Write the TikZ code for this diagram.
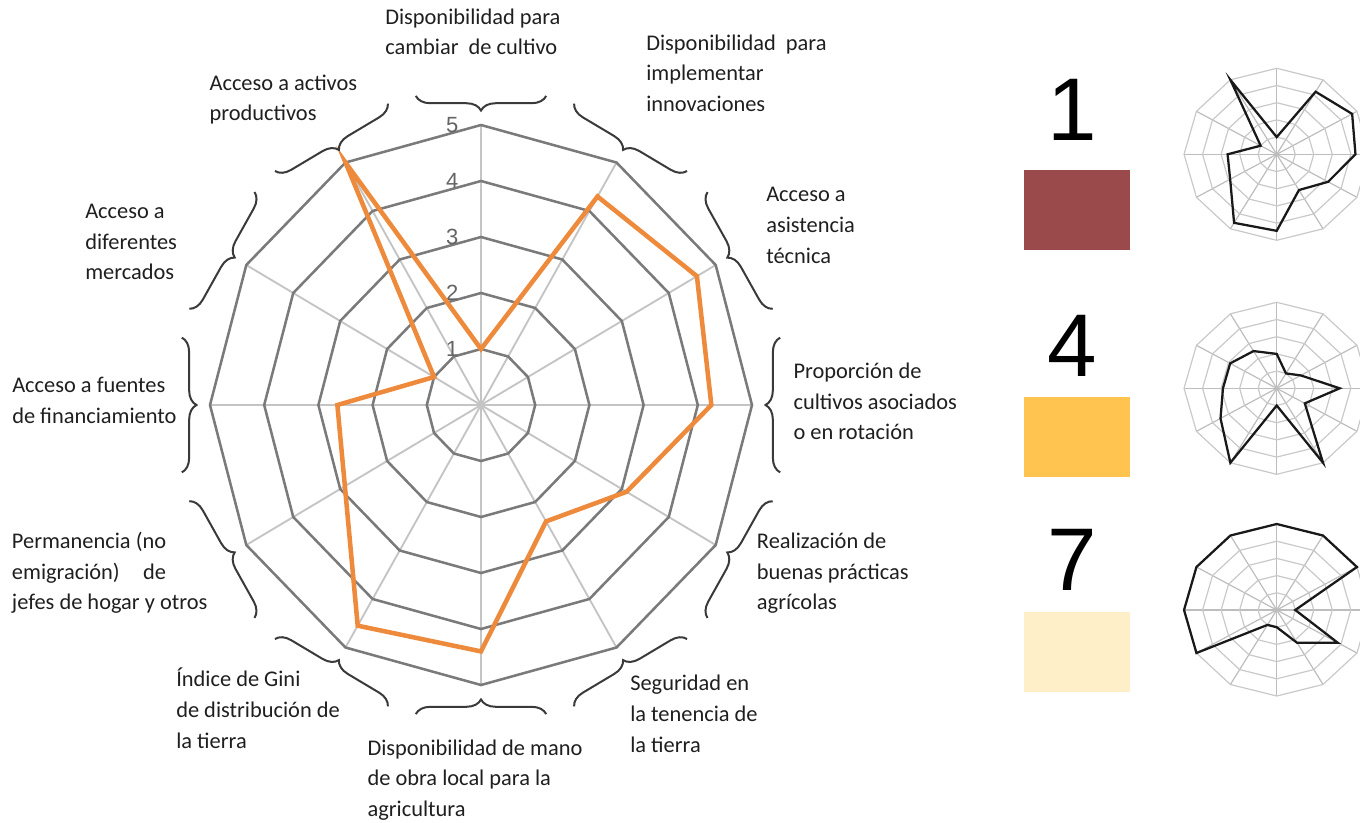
\documentclass[tikz,border=0pt]{standalone}
\usepackage{fontspec}
\setmainfont{Carlito}
\newfontfamily\numfont{Liberation Sans}
\usepackage{calc}
\usetikzlibrary{decorations.pathreplacing}

\definecolor{ringgray}{HTML}{7A7A7A}
\definecolor{spokegray}{HTML}{C4C4C4}
\definecolor{tickgray}{HTML}{646464}
\definecolor{bracegray}{HTML}{3A3A3A}
\definecolor{labelgray}{HTML}{1F1F1F}
\definecolor{profileorange}{HTML}{EE8A3C}
\definecolor{miniring}{HTML}{C9C9C9}
\definecolor{minispoke}{HTML}{BDBDBD}
\definecolor{clusterA}{HTML}{9B4A4C}
\definecolor{clusterB}{HTML}{FFC34F}
\definecolor{clusterC}{HTML}{FEEFC8}

\tikzset{
  ring/.style={draw=ringgray, line width=1.9pt},
  spoke/.style={draw=spokegray, line width=1.4pt},
  tick/.style={inner sep=0pt, text=tickgray, font=\numfont\fontsize{16.5}{18}\selectfont},
  profile/.style={draw=profileorange, line width=3.4pt, line join=miter},
  curly/.style={decorate, decoration={brace, amplitude=11pt}, draw=bracegray, line width=1.5pt},
  lbl/.style={anchor=north west, inner sep=0pt, align=left, text=labelgray,
    font=\fontsize{16.8}{23}\selectfont},
  bignum/.style={inner sep=0pt, font=\numfont\fontsize{66.75}{70}\selectfont},
  swatch/.style={inner sep=0pt, minimum width=79.5pt, minimum height=60pt},
  mring/.style={draw=miniring, line width=0.9pt},
  mspoke/.style={draw=minispoke, line width=0.9pt},
  mprofile/.style={draw=black!90, line width=1.7pt, line join=miter}
}

\begin{document}
\begin{tikzpicture}[x=0.75pt, y=-0.75pt]
\useasboundingbox (0,0) rectangle (1360,822);

% main chart
\begin{scope}[shift={(481,405)}, x=40.65pt, y=42pt]
  \foreach \a in {0,30,...,330}
    \draw[spoke] (0,0) -- (\a:5);
  \foreach \r in {1,...,5}
    \draw[ring] (90:\r) \foreach \a in {60,30,...,-240}{ -- (\a:\r)} -- cycle;
  \foreach \r in {1,...,5}
    \node[tick] (t\r) at (-0.53,\r) {\r};
  \draw[profile] (90:1) \foreach \v [count=\i] in {4.3,4.6,4.25,3.1,2.4,4.4,4.55,2.9,2.65,1,5}{ -- ({90-30*\i}:\v)} -- cycle;
  % braces
  \foreach \a in {0,30,...,330}
    \draw[curly] ({\a-12.3}:5.65) -- ({\a+12.3}:5.65);
\end{scope}

% labels
\node[lbl] (cambio) at (385,2.5) {\strut Disponibilidad para\\cambiar\ \ de cultivo};
\node[lbl] (innova) at (646,28.5) {\strut Disponibilidad\ \ para\\implementar\\innovaciones};
\node[lbl] (asist) at (766,180.2) {\strut Acceso a\\asistencia\\técnica};
\node[lbl] (rotac) at (793.3,356.8) {\strut Proporción de\\cultivos asociados\\o en rotación};
\node[lbl] (buenas) at (756.7,526.8) {\strut Realización de\\buenas prácticas\\agrícolas};
\node[lbl] (tenencia) at (630,669.2) {\strut Seguridad en\\la tenencia de\\la tierra};
\node[lbl] (mano) at (367.3,733.5) {\strut Disponibilidad de mano\\de obra local para la\\agricultura};
\node[lbl] (gini) at (176,665.2) {\strut Índice de Gini\\de distribución de\\la tierra};
\node[lbl] (perm) at (11.7,526.8) {\strut Permanencia (no\\\makebox[\widthof{Permanencia (no}][s]{emigración)\hfill de}\\jefes de hogar y otros};
\node[lbl] (financ) at (12,371.2) {\strut Acceso a fuentes\\de financiamiento};
\node[lbl] (mercados) at (85,196.8) {\strut Acceso a\\diferentes\\mercados};
\node[lbl] (activos) at (209.3,68.5) {\strut Acceso a activos\\productivos};

% clusters
\node[bignum] (n1) at (1072,110) {1};
\node[bignum] (n4) at (1072,346) {4};
\node[bignum] (n7) at (1072,560) {7};
\node[swatch, fill=clusterA] (s1) at (1077,210) {};
\node[swatch, fill=clusterB] (s4) at (1077,437) {};
\node[swatch, fill=clusterC] (s7) at (1077,651.5) {};

\begin{scope}[shift={(1276.7,154.3)}, x=13.9pt, y=12.9pt]
  \foreach \a in {0,30,...,330}
    \draw[mspoke] (0,0) -- (\a:5);
  \foreach \r in {1,...,5}
    \draw[mring] (90:\r) \foreach \a in {60,30,...,-240}{ -- (\a:\r)} -- cycle;
  \draw[mprofile] (90:1) \foreach \v [count=\i] in {4.2,4.7,4.25,3.2,2.4,4.45,4.6,2.9,2.65,1,5}{ -- ({90-30*\i}:\v)} -- cycle;
\end{scope}

\begin{scope}[shift={(1276.7,388.3)}, x=13.9pt, y=12.9pt]
  \foreach \a in {0,30,...,330}
    \draw[mspoke] (0,0) -- (\a:5);
  \foreach \r in {1,...,5}
    \draw[mring] (90:\r) \foreach \a in {60,30,...,-240}{ -- (\a:\r)} -- cycle;
  \draw[mprofile] (90:2) \foreach \v [count=\i] in {1,1.5,3.4,1.75,5,1,5,3.5,2.9,2.9,2.5}{ -- ({90-30*\i}:\v)} -- cycle;
\end{scope}

\begin{scope}[shift={(1276.7,610)}, x=13.9pt, y=12.9pt]
  \foreach \a in {0,30,...,330}
    \draw[mspoke] (0,0) -- (\a:5);
  \foreach \r in {1,...,5}
    \draw[mring] (90:\r) \foreach \a in {60,30,...,-240}{ -- (\a:\r)} -- cycle;
  \draw[mprofile] (90:5) \foreach \v [count=\i] in {5,5,1,3.8,2.2,1,1,5,5,5,5}{ -- ({90-30*\i}:\v)} -- cycle;
\end{scope}
\end{tikzpicture}
\end{document}
